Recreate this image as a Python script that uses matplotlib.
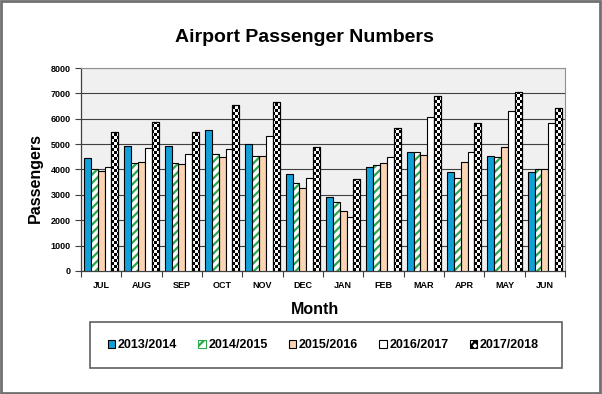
import numpy as np
import matplotlib
matplotlib.use('Agg')
import matplotlib.pyplot as plt
from matplotlib.patches import Rectangle, Patch

plt.rcParams['font.family'] = ['Liberation Sans', 'DejaVu Sans']
plt.rcParams['hatch.linewidth'] = 1.6

# Data
months = ['JUL', 'AUG', 'SEP', 'OCT', 'NOV', 'DEC', 'JAN', 'FEB', 'MAR', 'APR', 'MAY', 'JUN']
seasons = ['2013/2014', '2014/2015', '2015/2016', '2016/2017', '2017/2018']
p2013 = [4460, 4910, 4910, 5550, 4990, 3820, 2930, 4080, 4670, 3900, 4520, 3890]
p2014 = [4020, 4240, 4240, 4610, 4540, 3450, 2720, 4160, 4670, 3660, 4480, 4020]
p2015 = [3940, 4280, 4200, 4480, 4540, 3280, 2370, 4240, 4590, 4290, 4870, 4020]
p2016 = [4110, 4840, 4630, 4820, 5310, 3660, 2110, 4490, 6080, 4690, 6290, 5840]
p2017 = [5490, 5880, 5490, 6540, 6650, 4890, 3610, 5630, 6900, 5830, 7060, 6430]

blue = '#12a0d8'
green = '#2aa84a'
peach = '#fbd5b3'

fig = plt.figure(figsize=(6.02, 3.94), dpi=100)
ax = fig.add_axes([0.1346, 0.3122, 0.804, 0.5152])
ax.set_facecolor('#f0f0f0')

x = np.arange(len(months))
w = 0.17
offs = (np.arange(5) - 2) * w

ax.bar(x + offs[0], p2013, w, color=blue, edgecolor='black', linewidth=0.8, zorder=3)
ax.bar(x + offs[1], p2014, w, color='white', edgecolor=green, hatch='////', linewidth=0, zorder=3)
ax.bar(x + offs[1], p2014, w, fill=False, edgecolor='black', linewidth=0.8, zorder=4)
ax.bar(x + offs[2], p2015, w, color=peach, edgecolor='black', linewidth=0.8, zorder=3)
ax.bar(x + offs[3], p2016, w, color='white', edgecolor='black', linewidth=0.8, zorder=3)
checker_bars = ax.bar(x + offs[4], p2017, w, color='white', edgecolor='black',
                      linewidth=0.8, zorder=3)

ax.set_xlim(-0.5, len(months) - 0.5)
ax.set_ylim(0, 8000)

# checkerboard fill for the last season, squares snapped to the pixel grid
fig.canvas.draw()
cell = 3  # px
inv = ax.transData.inverted()
for b in checker_bars:
    x0, y0 = b.get_x(), b.get_y()
    bw, bh = b.get_width(), b.get_height()
    p0 = ax.transData.transform((x0, y0))
    p1 = ax.transData.transform((x0 + bw, y0 + bh))
    xs = np.arange(np.floor(p0[0]), p1[0], cell)
    ys = np.arange(np.floor(p0[1]), p1[1], cell)
    for i, px in enumerate(xs):
        for j, py in enumerate(ys):
            if (i + j) % 2:
                continue
            qx0, qy0 = max(px, p0[0]), max(py, p0[1])
            qx1, qy1 = min(px + cell, p1[0]), min(py + cell, p1[1])
            d0 = inv.transform((qx0, qy0))
            d1 = inv.transform((qx1, qy1))
            ax.add_patch(Rectangle(d0, d1[0] - d0[0], d1[1] - d0[1],
                                   facecolor='black', edgecolor='none', linewidth=0,
                                   antialiased=False, zorder=3.5))
    ax.add_patch(Rectangle((x0, y0), bw, bh, fill=False, edgecolor='black',
                           linewidth=0.8, zorder=4))

ax.set_xlim(-0.5, len(months) - 0.5)
ax.set_ylim(0, 8000)
ax.set_yticks(np.arange(0, 8001, 1000))
ax.set_xticks(x)
ax.set_xticklabels(months)
ax.set_xticks(np.arange(-0.5, len(months), 1), minor=True)
ax.tick_params(axis='x', which='major', length=0, pad=7)
ax.tick_params(axis='x', which='minor', length=4, width=0.8, color='#404040')
ax.tick_params(axis='y', length=4, width=0.8, color='#404040')
for lab in ax.get_xticklabels() + ax.get_yticklabels():
    lab.set_fontsize(6.5)
    lab.set_fontweight('bold')
ax.grid(axis='y', color='#404040', linewidth=0.8)
ax.set_axisbelow(True)
for s in ['left', 'bottom']:
    ax.spines[s].set_color('#404040')
    ax.spines[s].set_linewidth(0.9)
for s in ['top', 'right']:
    ax.spines[s].set_color('#909090')
    ax.spines[s].set_linewidth(0.8)

fig.text(0.505, 0.904, 'Airport Passenger Numbers', ha='center', va='center',
         fontsize=14, fontweight='bold')
fig.text(0.058, 0.548, 'Passengers', rotation=90, ha='center', va='center',
         fontsize=11.5, fontweight='bold')
fig.text(0.523, 0.214, 'Month', ha='center', va='center', fontsize=11.5, fontweight='bold')

# legend
fig.patches.append(Rectangle((0.1495, 0.066), 0.784, 0.117, transform=fig.transFigure,
                             facecolor='white', edgecolor='#606060', linewidth=1.2))
handles = [
    Patch(facecolor=blue, edgecolor='black', linewidth=0.8),
    Patch(facecolor='white', edgecolor=green, hatch='///', linewidth=0.8),
    Patch(facecolor=peach, edgecolor='black', linewidth=0.8),
    Patch(facecolor='white', edgecolor='black', linewidth=0.8),
    Patch(facecolor='white', edgecolor='black', hatch='xxxx', linewidth=0.8),
]
leg = fig.legend(handles, seasons, loc='center', bbox_to_anchor=(0.537, 0.1245), ncol=5,
                 frameon=False, handlelength=0.6, handleheight=0.6, handletextpad=0.2,
                 columnspacing=1.7, prop={'weight': 'bold', 'size': 9})

# outer frame
fig.patches.append(Rectangle((0.002, 0.003), 0.995, 0.994, transform=fig.transFigure,
                             fill=False, edgecolor='#707070', linewidth=2))

fig.savefig('out.png', dpi=100)
